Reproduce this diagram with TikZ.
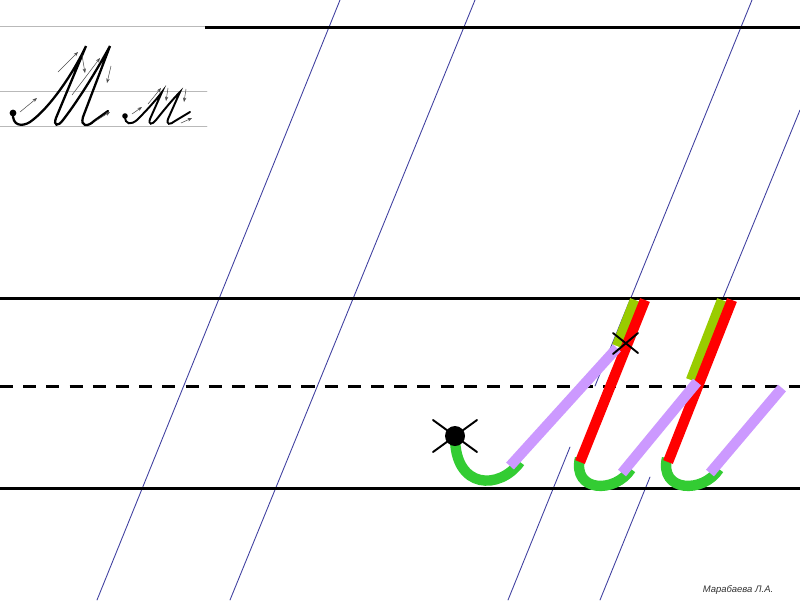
\documentclass[tikz,border=0pt]{standalone}
\usepackage{fontspec}
\setsansfont{Liberation Sans}
\usetikzlibrary{arrows.meta}
\usepackage{xcolor}
\definecolor{strokegreen}{HTML}{33CC33}
\definecolor{strokeviolet}{HTML}{CC99FF}
\definecolor{strokered}{HTML}{FF0000}
\definecolor{strokelime}{HTML}{99CC00}
\definecolor{slantblue}{HTML}{4040A0}

\begin{document}
\begin{tikzpicture}[x=0.02cm,y=-0.02cm,>={Stealth[length=0.9mm]},line cap=round,
  rule/.style={black,line width=1.7pt,line cap=butt},
  thinrule/.style={gray!55,line width=0.5pt},
  slant/.style={slantblue,line width=0.5pt},
  pen/.style={line width=5.9pt,line cap=butt},
  hint/.style={gray!60!black,line width=0.3pt,->},
  script/.style={black,line width=1.3pt}]
\useasboundingbox (0,0) rectangle (800,600);
\draw[slant] (97,600) -- (340,0);
\draw[slant] (230,600) -- (475,0);
\draw[slant] (752,0) -- (595,386);
\draw[slant] (570,447) -- (508,600);
\draw[slant] (800,110) -- (723,298);
\draw[slant] (650,477) -- (600,600);
\draw[thinrule] (0,26) -- (205,26);
\draw[thinrule] (0,91) -- (207,91);
\draw[thinrule] (0,126) -- (207,126);
\draw[rule] (205,27) -- (800,27);
\draw[rule] (0,298) -- (800,298);
\draw[rule,dash pattern=on 7.4pt off 5.8pt] (0,386) -- (800,386);
\draw[rule] (0,488) -- (800,488);
\fill[script] (13,113) circle (3.4);
\draw[script] (13,113) .. controls (12,126) and (22,127) .. (30,122)
  .. controls (50,108) and (74,72) .. (86,46) -- (56,118)
  .. controls (53,126) and (58,127) .. (63,120)
  .. controls (80,98) and (98,68) .. (110,46) -- (83,117)
  .. controls (80,127) and (88,127) .. (94,121) -- (108,111);
\fill[script] (125,116) circle (2.8);
\draw[script,line width=1.1pt] (125,116) .. controls (125,125) and (131,125) .. (137,120)
  .. controls (147,110) and (156,100) .. (162,92) -- (150,119)
  .. controls (148,125) and (152,125) .. (156,120)
  .. controls (164,110) and (172,100) .. (180,92) -- (168,119)
  .. controls (166,125) and (170,125) .. (175,121) -- (190,112);
\draw[hint] (20,112) -- (37,98);
\draw[hint] (58,72) -- (78,52);
\draw[hint] (82,55) -- (85,73);
\draw[hint] (72,95) -- (100,58);
\draw[hint] (111,66) -- (107,83);
\draw[hint] (97,120) -- (110,112);
\draw[hint] (132,114) -- (142,107);
\draw[hint] (148,104) -- (161,88);
\draw[hint] (168,88) -- (166,101);
\draw[hint] (186,89) -- (184,102);
\draw[hint] (181,123) -- (192,118);
\draw[strokegreen,pen] (455,437) .. controls (455,490) and (500,490) .. (520,462);
\draw[strokegreen,pen] (580,458) .. controls (572,492) and (615,494) .. (631,469);
\draw[strokegreen,pen] (667,458) .. controls (659,492) and (703,494) .. (719,469);
\draw[strokelime,pen] (635,300) -- (617,346);
\draw[strokelime,pen] (722,300) -- (691,380);
\draw[strokered,pen] (645,300) -- (580,462);
\draw[strokered,pen] (732,300) -- (668,462);
\draw[strokeviolet,pen] (510,466) -- (617,348);
\draw[strokeviolet,pen] (622,473) -- (697,382);
\draw[strokeviolet,pen] (710,473) -- (782,388);
\fill[black] (455,436) circle (10);
\draw[black,line width=1.1pt] (433,420) -- (477,452);
\draw[black,line width=1.1pt] (433,452) -- (477,420);
\draw[black,line width=1.1pt] (613,333) -- (638,353);
\draw[black,line width=1.1pt] (613,354) -- (638,333);
\node[font=\sffamily\itshape\fontsize{5.4}{6}\selectfont,text=black!80] (author) at (738,590) {Марабаева Л.А.};
\end{tikzpicture}
\end{document}
